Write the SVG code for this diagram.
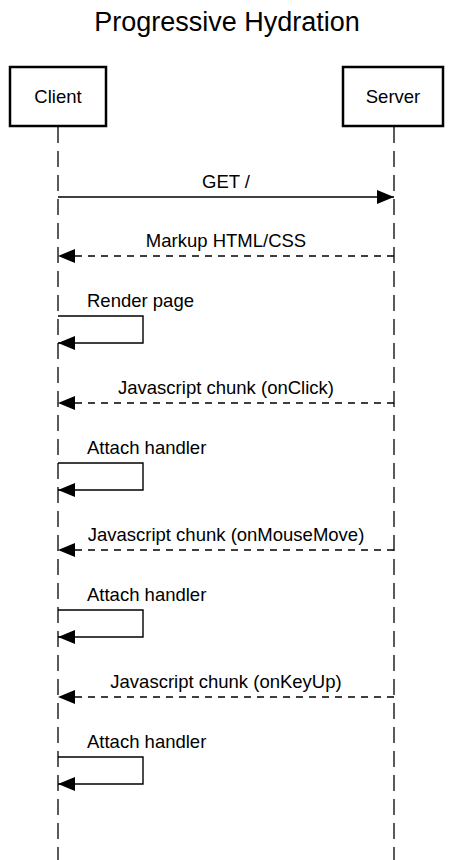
<svg xmlns="http://www.w3.org/2000/svg" width="454" height="860" viewBox="0 0 454 860">
<style>
text{font-family:"Liberation Sans",Arial,sans-serif;fill:#000}
.lbl{font-size:18.5px}
.title{font-size:27px}
.box{fill:#fff;stroke:#000;stroke-width:2.5}
.life{stroke:#000;stroke-width:1.3;stroke-dasharray:16 8;fill:none}
.msg{stroke:#000;stroke-width:1.4;fill:none}
.dash{stroke-dasharray:7 6}
</style>
<defs>
<marker id="ah" markerWidth="17" markerHeight="14" refX="17" refY="7" orient="auto" markerUnits="userSpaceOnUse">
<path d="M0,0 L17,7 L0,14 Z" fill="#000"/>
</marker>
</defs>
<rect width="454" height="860" fill="#fff"/>
<text class="title" x="227" y="31" text-anchor="middle">Progressive Hydration</text>
<g id="lifelines">
<line class="life" x1="58" y1="127" x2="58" y2="860"/>
<line class="life" x1="394" y1="127" x2="394" y2="860"/>
</g>
<g id="client">
<rect class="box" x="10" y="67" width="96" height="59"/>
<text class="lbl" x="58" y="103" text-anchor="middle">Client</text>
</g>
<g id="server">
<rect class="box" x="343" y="67" width="100" height="59"/>
<text class="lbl" x="393" y="103" text-anchor="middle">Server</text>
</g>
<g id="connectors">
<line class="msg" x1="58" y1="197" x2="394" y2="197" marker-end="url(#ah)"/>
<text class="lbl" x="226" y="188" text-anchor="middle">GET /</text>
<line class="msg dash" x1="394" y1="256" x2="58" y2="256" marker-end="url(#ah)"/>
<text class="lbl" x="226" y="247" text-anchor="middle">Markup HTML/CSS</text>
<path class="msg" d="M58,316 H143 V343 H58" marker-end="url(#ah)"/>
<text class="lbl" x="87" y="307">Render page</text>
<line class="msg dash" x1="394" y1="403" x2="58" y2="403" marker-end="url(#ah)"/>
<text class="lbl" x="226" y="394" text-anchor="middle">Javascript chunk (onClick)</text>
<path class="msg" d="M58,463 H143 V490 H58" marker-end="url(#ah)"/>
<text class="lbl" x="87" y="454">Attach handler</text>
<line class="msg dash" x1="394" y1="550" x2="58" y2="550" marker-end="url(#ah)"/>
<text class="lbl" x="226" y="541" text-anchor="middle">Javascript chunk (onMouseMove)</text>
<path class="msg" d="M58,610 H143 V637 H58" marker-end="url(#ah)"/>
<text class="lbl" x="87" y="601">Attach handler</text>
<line class="msg dash" x1="394" y1="697" x2="58" y2="697" marker-end="url(#ah)"/>
<text class="lbl" x="226" y="688" text-anchor="middle">Javascript chunk (onKeyUp)</text>
<path class="msg" d="M58,757 H143 V784 H58" marker-end="url(#ah)"/>
<text class="lbl" x="87" y="748">Attach handler</text>
</g>
</svg>
